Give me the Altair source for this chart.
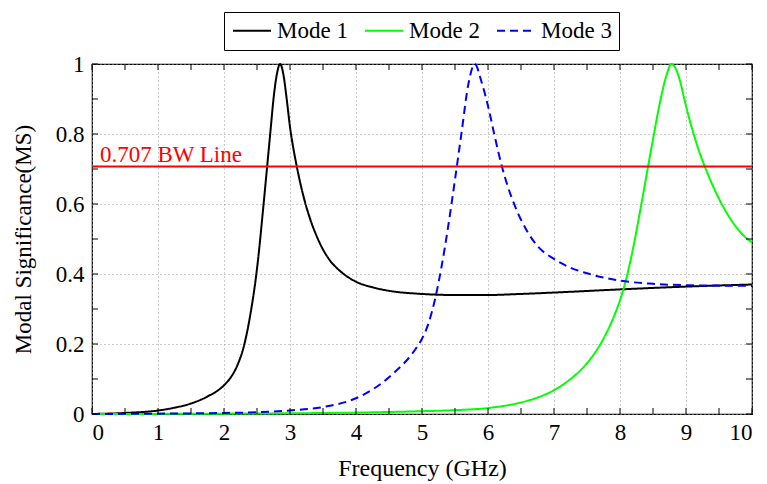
import altair as alt
import pandas as pd

# ---- data ----
mode1_x = [0, 0.5, 1.0, 1.25, 1.5, 1.75, 2.0, 2.1, 2.2, 2.3, 2.4, 2.5, 2.6, 2.65, 2.7, 2.75, 2.8, 2.85, 2.9, 2.95, 3.0, 3.05, 3.1, 3.2, 3.3, 3.4, 3.5, 3.6, 3.75, 4.0, 4.25, 4.5, 5.0, 5.5, 6.0, 6.5, 7.0, 8.0, 9.0, 10.0]
mode1_y = [0.0, 0.003, 0.01, 0.018, 0.03, 0.05, 0.082, 0.104, 0.138, 0.193, 0.285, 0.415, 0.6, 0.7, 0.8, 0.9, 0.97, 1.0, 0.97, 0.9, 0.82, 0.76, 0.71, 0.625, 0.56, 0.51, 0.47, 0.44, 0.41, 0.378, 0.362, 0.352, 0.343, 0.34, 0.34, 0.343, 0.347, 0.356, 0.364, 0.37]

mode2_x = [0, 2, 3, 4, 5, 5.5, 6, 6.5, 6.75, 7.0, 7.25, 7.5, 7.75, 7.9, 8.0, 8.1, 8.2, 8.3, 8.4, 8.5, 8.6, 8.7, 8.78, 8.85, 8.9, 9.0, 9.1, 9.2, 9.3, 9.4, 9.5, 9.6, 9.7, 9.8, 9.9, 10.0]
mode2_y = [0.0, 0.001, 0.002, 0.004, 0.008, 0.011, 0.017, 0.033, 0.047, 0.068, 0.1, 0.145, 0.215, 0.275, 0.325, 0.39, 0.475, 0.575, 0.68, 0.785, 0.885, 0.965, 1.0, 0.985, 0.958, 0.88, 0.81, 0.75, 0.7, 0.655, 0.615, 0.58, 0.55, 0.525, 0.505, 0.49]

mode3_x = [0, 1, 2, 2.5, 3, 3.5, 4, 4.25, 4.5, 4.6, 4.7, 4.8, 4.9, 5.0, 5.1, 5.2, 5.3, 5.4, 5.5, 5.6, 5.7, 5.8, 5.9, 6.0, 6.1, 6.2, 6.3, 6.4, 6.5, 6.6, 6.75, 7.0, 7.25, 7.5, 8.0, 8.5, 9.0, 10.0]
mode3_y = [0.0, 0.001, 0.003, 0.005, 0.01, 0.02, 0.045, 0.07, 0.105, 0.122, 0.14, 0.16, 0.185, 0.215, 0.26, 0.33, 0.425, 0.54, 0.67, 0.805, 0.94, 1.0, 0.95, 0.88, 0.795, 0.715, 0.65, 0.598, 0.555, 0.52, 0.48, 0.443, 0.418, 0.402, 0.381, 0.372, 0.368, 0.366]

mode_names = ["Mode 1", "Mode 2", "Mode 3"]
mode_colors = ["#000000", "#00ff00", "#0000ff"]
mode_dashes = [[1, 0], [1, 0], [8, 5]]

bw_level = 0.707
bw_label = "0.707 BW Line"
bw_label_x = 0.12

x_tick_labels = [0, 1, 2, 3, 4, 5, 6, 7, 8, 9, 10]
y_tick_labels = [0, 0.2, 0.4, 0.6, 0.8, 1]
x_minor = [i * 0.5 for i in range(21)]
y_minor = [i * 0.1 for i in range(11)]

x_title = "Frequency (GHz)"
y_title = "Modal Significance(MS)"

W, H = 660, 350
FONT = "Liberation Serif"
FS = 23
TICK = 6

rows = []
for name, xs, ys in [(mode_names[0], mode1_x, mode1_y), (mode_names[1], mode2_x, mode2_y), (mode_names[2], mode3_x, mode3_y)]:
    for i, (a, b) in enumerate(zip(xs, ys)):
        rows.append({"mode": name, "f": a, "ms": b, "order": i})
df = pd.DataFrame(rows)

xscale = alt.Scale(domain=[0, 10], nice=False, zero=False)
yscale = alt.Scale(domain=[0, 1], nice=False)

xaxis = alt.Axis(values=x_tick_labels, format="d", ticks=False, domain=False, grid=True,
                 labelPadding=7, title=x_title, titleY=61, titleBaseline="alphabetic",
                 titleFontWeight="normal", titleFontSize=24)
yaxis = alt.Axis(values=y_tick_labels, format="~g", ticks=False, domain=False, grid=True,
                 labelPadding=8, title=y_title, titleX=-57, titleY=H / 2, titleAngle=-90,
                 titleBaseline="bottom", titleFontWeight="normal", titleFontSize=23)

legend_cfg = dict(orient="none", legendX=132, legendY=-52, direction="horizontal",
                  symbolType="M-2,0H2", symbolSize=361, symbolStrokeWidth=2, symbolOffset=9.5,
                  labelFont=FONT, labelFontSize=FS, labelColor="black",
                  labelOffset=13.5, columnPadding=13, padding=7,
                  strokeColor="black", fillColor="white")

lines = alt.Chart(df).mark_line(strokeWidth=2, interpolate="monotone").encode(
    x=alt.X("f:Q", scale=xscale, axis=xaxis),
    y=alt.Y("ms:Q", scale=yscale, axis=yaxis),
    color=alt.Color("mode:N", scale=alt.Scale(domain=mode_names, range=mode_colors),
                    title=None, legend=alt.Legend(**legend_cfg)),
    strokeDash=alt.StrokeDash("mode:N", scale=alt.Scale(domain=mode_names, range=mode_dashes),
                              title=None, legend=alt.Legend(**legend_cfg)),
    order="order:Q",
)

bw_rule = alt.Chart().mark_rule(color="#ff0000", strokeWidth=2).encode(y=alt.datum(bw_level))
bw_text = alt.Chart().mark_text(color="#ff0000", align="left", baseline="alphabetic", dy=-5,
                                font=FONT, fontSize=FS).encode(
    x=alt.datum(bw_label_x), y=alt.datum(bw_level), text=alt.value(bw_label))

xt = pd.DataFrame({"v": x_minor})
yt = pd.DataFrame({"v": y_minor})
tb = alt.Chart(xt).mark_rule(color="black").encode(x="v:Q", y=alt.value(H), y2=alt.value(H - TICK))
tt = alt.Chart(xt).mark_rule(color="black").encode(x="v:Q", y=alt.value(0), y2=alt.value(TICK))
tl = alt.Chart(yt).mark_rule(color="black").encode(y="v:Q", x=alt.value(0), x2=alt.value(TICK))
tr = alt.Chart(yt).mark_rule(color="black").encode(y="v:Q", x=alt.value(W), x2=alt.value(W - TICK))

chart = alt.layer(lines, bw_rule, bw_text, tb, tt, tl, tr).properties(
    width=W, height=H,
    autosize=alt.AutoSizeParams(type="none"),
    padding={"left": 92, "top": 64, "right": 15, "bottom": 70},
).configure_view(stroke="black", strokeWidth=1.2).configure_axis(
    labelFont=FONT, labelFontSize=FS, labelColor="black",
    titleFont=FONT, titleColor="black",
    gridColor="#999999", gridDash=[1, 3], gridWidth=1,
).configure_legend(labelFont=FONT)

chart.save("out.html", embed_options={"renderer": "svg", "actions": False})
